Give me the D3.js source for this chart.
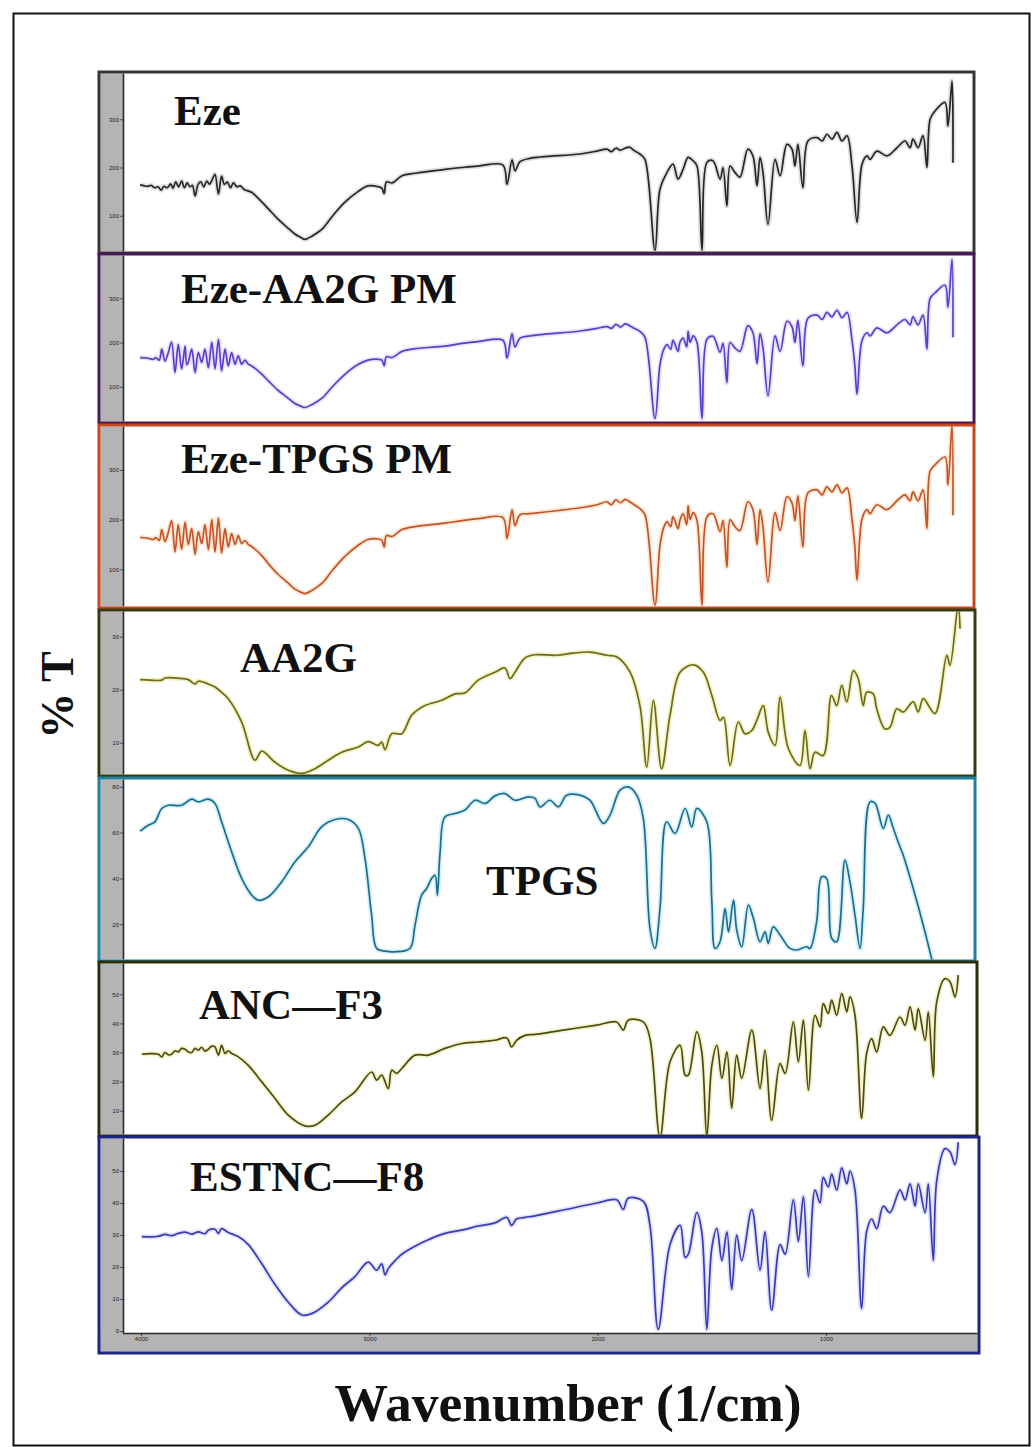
<!DOCTYPE html>
<html>
<head>
<meta charset="utf-8">
<script src="https://cdn.jsdelivr.net/npm/d3@7"></script>
<style>
  body { margin: 0; background: #fff; }
  svg { display: block; }
</style>
</head>
<body>
<svg id="chart" width="1034" height="1447"></svg>
<script>
// ---- FTIR spectra: [wavenumber (1/cm), %T] ----
const wavenumberTicks = [4000, 3000, 2000, 1000];

const ezeSpectrum = [[4004,164],[3985,162],[3970,161],[3955,163],[3940,158],[3925,160],[3912,153],[3900,161],[3885,158],[3870,166],[3860,157],[3848,170],[3835,160],[3822,172],[3810,158],[3798,168],[3785,160],[3775,163],[3763,141],[3750,165],[3738,170],[3725,160],[3712,172],[3700,165],[3688,175],[3676,186],[3661,145],[3647,182],[3635,165],[3622,170],[3608,158],[3595,168],[3580,160],[3565,162],[3550,155],[3535,152],[3514,148],[3470,128],[3440,113],[3400,93],[3360,76],[3326,62],[3300,55],[3282,51],[3250,58],[3207,72],[3160,100],[3107,128],[3050,150],[3006,162],[2960,160],[2945,157],[2935,146],[2925,170],[2900,168],[2857,183],[2800,188],[2669,196],[2594,200],[2524,203],[2415,205],[2397,165],[2375,216],[2362,193],[2340,212],[2296,219],[2077,228],[2003,234],[1960,238],[1940,233],[1920,240],[1900,236],[1880,240],[1860,242],[1840,235],[1815,228],[1793,217],[1749,28],[1727,155],[1696,190],[1670,207],[1648,176],[1626,196],[1604,221],[1582,214],[1565,203],[1543,28],[1521,211],[1495,214],[1464,176],[1451,200],[1434,120],[1420,203],[1399,190],[1377,180],[1342,238],[1320,224],[1302,162],[1289,221],[1276,190],[1254,82],[1223,217],[1201,183],[1171,248],[1149,238],[1136,203],[1123,248],[1101,158],[1079,255],[1039,262],[1017,255],[996,269],[974,259],[952,273],[930,255],[908,266],[886,203],[864,86],[842,207],[820,224],[807,217],[777,234],[733,224],[689,241],[654,255],[632,241],[619,259],[597,241],[575,266],[558,200],[544,300],[523,317],[479,335],[466,286],[448,380],[444,210]];

const ezeAa2gPmSpectrum = [[4004,166],[3975,165],[3946,162],[3935,166],[3920,160],[3909,185],[3895,158],[3880,178],[3866,201],[3851,132],[3837,196],[3822,140],[3807,192],[3800,150],[3793,155],[3778,185],[3763,132],[3749,177],[3734,155],[3720,185],[3705,143],[3690,201],[3676,140],[3661,207],[3647,136],[3632,185],[3618,147],[3603,177],[3588,151],[3574,170],[3559,151],[3545,160],[3530,151],[3515,147],[3470,128],[3440,112],[3400,92],[3360,76],[3326,62],[3300,56],[3282,53],[3250,60],[3207,74],[3160,101],[3107,128],[3050,150],[3006,160],[2960,162],[2945,160],[2935,148],[2925,168],[2900,166],[2857,180],[2800,186],[2669,192],[2594,198],[2524,202],[2415,205],[2397,165],[2375,220],[2362,190],[2340,210],[2296,215],[2077,226],[2003,232],[1960,236],[1940,232],[1920,241],[1900,235],[1880,242],[1860,238],[1840,232],[1815,225],[1793,212],[1749,28],[1727,150],[1710,185],[1696,195],[1680,185],[1670,205],[1648,180],[1640,200],[1626,210],[1610,190],[1604,225],[1595,200],[1582,215],[1565,200],[1543,28],[1521,208],[1495,214],[1464,178],[1451,198],[1434,109],[1420,200],[1399,188],[1377,180],[1342,238],[1320,222],[1302,152],[1289,220],[1276,188],[1254,79],[1223,215],[1201,180],[1171,248],[1149,236],[1136,200],[1123,250],[1101,147],[1079,255],[1039,262],[1017,252],[996,268],[974,258],[952,273],[930,256],[908,268],[886,205],[874,150],[864,83],[842,205],[820,222],[807,215],[777,233],[733,222],[689,240],[654,252],[632,240],[619,258],[597,240],[575,262],[558,185],[544,300],[523,312],[479,330],[466,280],[448,388],[444,212]];

const ezeTpgsPmSpectrum = [[4004,164],[3975,163],[3946,160],[3935,164],[3920,158],[3909,180],[3895,156],[3880,175],[3866,198],[3851,135],[3837,190],[3822,140],[3807,195],[3793,150],[3778,182],[3763,130],[3749,176],[3734,152],[3720,190],[3705,140],[3690,200],[3676,135],[3661,203],[3647,133],[3632,182],[3618,145],[3603,172],[3588,150],[3574,168],[3559,152],[3545,158],[3530,150],[3515,146],[3470,127],[3440,110],[3400,90],[3360,74],[3326,60],[3300,54],[3282,51],[3250,58],[3207,72],[3160,99],[3107,126],[3050,148],[3006,160],[2960,161],[2945,158],[2935,145],[2925,168],[2900,166],[2857,180],[2800,186],[2669,193],[2594,198],[2524,202],[2415,204],[2397,162],[2375,220],[2362,188],[2340,210],[2296,212],[2077,224],[2003,230],[1960,236],[1940,230],[1920,240],[1900,234],[1880,241],[1860,236],[1840,230],[1815,222],[1793,210],[1749,28],[1727,148],[1710,185],[1696,196],[1680,186],[1670,206],[1648,182],[1640,198],[1626,212],[1610,190],[1604,228],[1595,200],[1582,214],[1565,198],[1543,28],[1521,206],[1495,212],[1464,176],[1451,198],[1434,104],[1420,200],[1399,186],[1377,178],[1342,236],[1320,220],[1302,150],[1289,220],[1276,186],[1254,74],[1223,214],[1201,178],[1171,246],[1149,234],[1136,198],[1123,248],[1101,145],[1079,254],[1039,260],[1017,250],[996,266],[974,256],[952,270],[930,254],[908,264],[886,200],[874,148],[864,78],[842,202],[820,220],[807,212],[777,230],[733,220],[689,238],[654,250],[632,238],[619,256],[597,238],[575,260],[558,182],[544,298],[523,310],[479,326],[466,270],[448,392],[444,209]];

const aa2gSpectrum = [[4004,21.9],[3960,21.8],[3909,21.8],[3895,22.2],[3822,22.1],[3793,21.9],[3763,21.1],[3749,21.6],[3690,20.8],[3676,20.5],[3647,19.5],[3618,18.3],[3559,13.9],[3501,6.7],[3471,8.4],[3413,6.3],[3355,4.8],[3296,4.2],[3238,5.1],[3180,6.7],[3121,8.2],[3048,9.2],[3005,10.2],[2961,9.5],[2946,10.1],[2931,8.7],[2902,11.7],[2858,11.7],[2814,15.2],[2756,17],[2683,18],[2625,19.2],[2581,19.4],[2523,21.8],[2450,23.3],[2406,24.1],[2384,22.1],[2362,23.3],[2318,26],[2274,26.6],[2179,26.5],[2107,26.9],[2034,27.1],[1960,26.5],[1917,26.2],[1858,23.3],[1815,17],[1785,5.4],[1756,18],[1720,5.1],[1683,15.2],[1639,23.3],[1581,24.7],[1537,23.3],[1500,18.9],[1464,14.2],[1449,14.8],[1420,5.7],[1384,13.9],[1355,11.7],[1325,12.3],[1303,14.2],[1275,17],[1253,12],[1223,9.5],[1201,18.6],[1165,8.9],[1114,5.7],[1092,12.3],[1070,5.1],[1048,8.2],[1012,7.6],[976,18.9],[953,17],[931,20.8],[909,17.7],[880,23.6],[859,22.1],[837,17],[822,19.5],[793,19.2],[778,16.4],[742,12.6],[720,12.9],[690,16.4],[662,15.8],[618,17.7],[596,15.8],[574,18.3],[523,15.5],[471,26.5],[457,24.6],[421,36],[413,31.5]];

const tpgsSpectrum = [[4004,60.6],[3968,63.2],[3939,64.7],[3909,70.5],[3880,71.9],[3822,71.9],[3778,74.6],[3749,73.4],[3705,74.6],[3676,72.7],[3647,64.7],[3603,51.6],[3559,40],[3515,32.7],[3486,30.5],[3442,32],[3384,38.5],[3326,47.2],[3267,53.8],[3209,62.5],[3150,65.7],[3092,65.7],[3048,61.8],[3019,48.7],[2990,24],[2968,9.5],[2931,8.3],[2888,8],[2822,9.5],[2800,19.6],[2771,32.7],[2749,35.6],[2727,40],[2712,41.4],[2702,32.7],[2690,51.6],[2669,66.8],[2625,68.3],[2581,69.8],[2537,74.1],[2493,72.7],[2450,76],[2406,77],[2362,74.1],[2304,75.6],[2274,74.9],[2253,71.2],[2209,74.1],[2172,71.2],[2136,76.3],[2077,76.3],[2034,74.1],[1975,64],[1946,67.6],[1902,78.5],[1866,79.9],[1829,76.3],[1800,66.1],[1771,18.2],[1749,9.5],[1727,26.9],[1698,64.7],[1661,59.6],[1617,70.5],[1588,62.5],[1566,70.5],[1522,64.7],[1500,29.8],[1486,9.5],[1464,12.4],[1442,26.9],[1427,16.7],[1405,30.5],[1391,17.5],[1369,10.2],[1340,28.4],[1318,22.6],[1289,12.4],[1267,16.7],[1253,11.7],[1231,18.9],[1201,15.3],[1158,9.5],[1128,8.8],[1085,10.2],[1070,9.5],[1041,21.1],[1019,40.7],[997,40],[975,13.9],[953,12.4],[917,48],[895,38.5],[873,24],[851,9.5],[837,26.9],[807,73.4],[785,72.7],[749,61.8],[727,67.6],[705,61.8],[684,55.9],[662,50.2],[618,35.6],[574,19.6],[530,2]];

const ancF3Spectrum = [[3997,29.4],[3960,29.6],[3924,29.4],[3909,28.5],[3895,30],[3880,29.2],[3866,29.4],[3850,30.6],[3837,30.2],[3822,31.4],[3807,31.1],[3792,30.2],[3778,30],[3763,31.4],[3749,30.8],[3735,31.8],[3720,30.5],[3705,31.1],[3690,32.2],[3676,31.9],[3661,29.1],[3647,32.5],[3632,29.7],[3618,30.6],[3603,29.7],[3574,28.5],[3530,25.6],[3471,19.9],[3413,14.2],[3355,8.5],[3282,4.8],[3238,5],[3180,8.5],[3121,13],[3063,16.5],[2990,23.3],[2968,20.5],[2946,22.2],[2917,17.6],[2902,23.9],[2880,22.8],[2858,24.5],[2800,29.1],[2742,29.1],[2669,31.4],[2595,33.1],[2523,33.6],[2450,34.2],[2398,35],[2377,31.9],[2355,34.2],[2318,35.9],[2274,36.2],[2150,37.7],[2004,39.4],[1917,40.5],[1888,37.7],[1866,41.1],[1800,40.5],[1771,34.8],[1727,1],[1683,26.8],[1639,32.5],[1617,22.2],[1603,22.2],[1566,37.1],[1544,30.2],[1522,1],[1500,25.6],[1478,32.5],[1456,21.1],[1434,30.2],[1413,10.8],[1391,29.1],[1369,21.1],[1325,37.7],[1289,17.6],[1267,30.8],[1238,6.7],[1201,26.2],[1179,22.8],[1143,40.5],[1121,26.8],[1099,41.1],[1077,17],[1048,42.8],[1026,38.8],[1012,46.8],[990,43.4],[975,48],[953,42.8],[931,50.3],[909,44],[895,49.1],[873,42.8],[844,7.3],[822,29.7],[800,34.8],[778,30.2],[749,38.8],[720,35.9],[676,42.2],[654,39.4],[632,45.7],[610,37.7],[596,45.1],[566,34.2],[552,44],[530,21.6],[515,47.4],[479,55.4],[457,54.3],[435,49.1],[421,56.6]];

const estncF8Spectrum = [[3997,29.5],[3960,29.4],[3924,29.6],[3895,30.2],[3866,29.8],[3837,30.5],[3807,30.9],[3778,30.3],[3749,31],[3720,30.4],[3705,31.5],[3676,31.8],[3661,30.5],[3647,32],[3618,30.8],[3574,29.5],[3530,27],[3471,21],[3413,14.5],[3355,9],[3296,5],[3250,5.5],[3180,9],[3121,13.5],[3063,17],[3005,21.5],[2968,19],[2946,21],[2931,17.5],[2917,19.5],[2880,22.5],[2858,24],[2800,26.5],[2742,28.5],[2669,30.5],[2595,31.5],[2523,32.8],[2450,33.8],[2398,35.5],[2377,33],[2355,35],[2318,35.5],[2274,36],[2150,37.8],[2004,40],[1917,41],[1888,38],[1866,41.5],[1800,40.5],[1771,33],[1735,0.5],[1683,27],[1639,33],[1617,23],[1603,24],[1566,37],[1544,31],[1522,0.5],[1500,26],[1478,32],[1456,22],[1434,31],[1413,13],[1391,30],[1369,22],[1325,38],[1289,19],[1267,31],[1238,6.5],[1201,27],[1179,24],[1143,41],[1121,28],[1099,42],[1077,17],[1048,44],[1026,40],[1012,48],[990,45],[975,49],[953,44],[931,51],[909,46],[895,50],[873,44],[844,7],[822,31],[800,35],[778,32],[749,39],[720,37],[676,44],[654,41],[632,46],[610,39],[596,46],[566,37],[552,46],[530,22],[515,47],[479,57],[457,56],[435,52],[421,59]];

const sampleNames = ["Eze", "Eze-AA2G PM", "Eze-TPGS PM", "AA2G", "TPGS", "ANC\u2014F3", "ESTNC\u2014F8"];
const sampleSpectra = [ezeSpectrum, ezeAa2gPmSpectrum, ezeTpgsPmSpectrum, aa2gSpectrum, tpgsSpectrum, ancF3Spectrum, estncF8Spectrum];
const transmittanceTicks = [[100, 200, 300], [100, 200, 300], [100, 200, 300], [10, 20, 30], [20, 40, 60, 80], [10, 20, 30, 40, 50], [0, 10, 20, 30, 40, 50]];

// ---- layout of the stacked frames ----
// box: frame edges; ref: two tick values and their pixel rows (defines each y scale)
const frames = [
  { box: [99, 72, 974, 253],   ref: [100, 215.7, 300, 119.3], frame: "#363636", stroke: "#262626", halo: "#d8d8d8", label: [174, 125] },
  { box: [99, 254, 974, 423],  ref: [100, 386.7, 300, 298.3], frame: "#4a1758", stroke: "#5a3ec8", halo: "#e4dcff", label: [181, 303] },
  { box: [99, 425, 974, 608],  ref: [100, 569.3, 300, 470],   frame: "#c4471d", stroke: "#c4522a", halo: "#fbe2c8", label: [181, 473] },
  { box: [99, 610, 975, 776],  ref: [10, 742.7, 30, 636.7],   frame: "#3a3a10", stroke: "#6a6a22", halo: "#f0f0b0", label: [240, 672] },
  { box: [99, 778, 975, 961],  ref: [20, 924.3, 80, 786.7],   frame: "#1f7f9e", stroke: "#1f6d8c", halo: "#c9ecf6", label: [486, 895] },
  { box: [99, 962, 977, 1136], ref: [10, 1110.7, 50, 994.3],  frame: "#2c2c06", stroke: "#4a4a1a", halo: "#f0f0b8", label: [199, 1019] },
  { box: [99, 1137, 979, 1353], ref: [0, 1331, 50, 1171],     frame: "#1c2580", stroke: "#3a3ab4", halo: "#d8dcf8", label: [190, 1191] }
];

const svg = d3.select("#chart");
const defs = svg.append("defs");

// outer frame
svg.append("rect")
  .attr("x", 13.5).attr("y", 13.5).attr("width", 1016).attr("height", 1432)
  .attr("fill", "none").attr("stroke", "#111").attr("stroke-width", 2);

// shared wavenumber axis
const x = d3.scaleLinear().domain([4000, 1000]).range([141, 826]);

const axisX = 123;          // left axis line of every frame
const serif = "'Liberation Serif', 'Times New Roman', serif";

frames.forEach((f, i) => {
  const [x0, y0, x1, y1] = f.box;
  const inTop = y0 + 1.5, inBottom = y1 - 1.5;
  const plotBottom = i === 6 ? 1333 : inBottom;

  // y scale from two tick references, then widened to the frame interior
  const y = d3.scaleLinear().domain([f.ref[0], f.ref[2]]).range([f.ref[1], f.ref[3]]);
  y.domain([y.invert(plotBottom), y.invert(inTop)]).range([plotBottom, inTop]);

  const g = svg.append("g");

  g.append("rect")
    .attr("x", x0).attr("y", y0).attr("width", x1 - x0).attr("height", y1 - y0)
    .attr("fill", "#fff");

  // grey axis strip
  g.append("rect")
    .attr("x", x0 + 1.5).attr("y", inTop).attr("width", axisX - x0 - 1.5).attr("height", inBottom - inTop)
    .attr("fill", "#b4b4b4");
  if (i === 6) {
    g.append("rect")
      .attr("x", x0 + 1.5).attr("y", plotBottom).attr("width", x1 - x0 - 3).attr("height", inBottom - plotBottom)
      .attr("fill", "#b4b4b4");
  }

  // clip for the trace
  const clipId = "clip" + i;
  defs.append("clipPath").attr("id", clipId)
    .append("rect")
    .attr("x", axisX + 1).attr("y", inTop).attr("width", x1 - 1.5 - axisX - 1).attr("height", plotBottom - inTop);

  const line = d3.line()
    .x(d => x(d[0]))
    .y(d => y(d[1]))
    .curve(d3.curveCatmullRom.alpha(0.5));

  const data = sampleSpectra[i];
  const traces = g.append("g").attr("clip-path", `url(#${clipId})`);
  traces.append("path").datum(data)
    .attr("d", line).attr("fill", "none")
    .attr("stroke", f.halo).attr("stroke-width", 5).attr("stroke-linejoin", "round").attr("opacity", 0.8);
  traces.append("path").datum(data)
    .attr("d", line).attr("fill", "none")
    .attr("stroke", f.stroke).attr("stroke-width", 1.7).attr("stroke-linejoin", "round");

  // left axis
  const yAxis = d3.axisLeft(y).tickValues(transmittanceTicks[i]).tickSize(3).tickPadding(1).tickFormat(d3.format("d"));
  const ag = g.append("g").attr("transform", `translate(${axisX},0)`).call(yAxis);
  ag.select(".domain").remove();
  ag.selectAll(".tick line").attr("stroke", "#333").attr("stroke-width", 0.8);
  ag.selectAll(".tick text").attr("font-family", "'Liberation Sans', Arial, sans-serif").attr("font-size", 6).attr("fill", "#222");
  g.append("line")
    .attr("x1", axisX + 0.5).attr("x2", axisX + 0.5).attr("y1", inTop).attr("y2", plotBottom)
    .attr("stroke", "#2a2a2a").attr("stroke-width", 1.6);

  if (i === 6) {
    const xAxis = d3.axisBottom(x).tickValues(wavenumberTicks).tickSize(3).tickPadding(1).tickFormat(d3.format("d"));
    const bg = g.append("g").attr("transform", `translate(0,${plotBottom})`).call(xAxis);
    bg.select(".domain").remove();
    bg.selectAll(".tick line").attr("stroke", "#333").attr("stroke-width", 0.8);
    bg.selectAll(".tick text").attr("font-family", "'Liberation Sans', Arial, sans-serif").attr("font-size", 6).attr("fill", "#222");
    g.append("line")
      .attr("x1", axisX).attr("x2", x1 - 1.5).attr("y1", plotBottom + 0.5).attr("y2", plotBottom + 0.5)
      .attr("stroke", "#2a2a2a").attr("stroke-width", 1.4);
  }

  // frame border
  g.append("rect")
    .attr("x", x0).attr("y", y0).attr("width", x1 - x0).attr("height", y1 - y0)
    .attr("fill", "none").attr("stroke", f.frame).attr("stroke-width", 3);

  // sample name
  g.append("text")
    .attr("x", f.label[0]).attr("y", f.label[1])
    .attr("font-family", serif).attr("font-weight", "bold").attr("font-size", 43)
    .attr("fill", "#111")
    .text(sampleNames[i]);
});

// axis titles
svg.append("text")
  .attr("transform", "translate(73,695) rotate(-90)")
  .attr("text-anchor", "middle")
  .attr("font-family", serif).attr("font-weight", "bold").attr("font-size", 46)
  .attr("fill", "#111")
  .text("% T");

svg.append("text")
  .attr("x", 568).attr("y", 1421)
  .attr("text-anchor", "middle")
  .attr("font-family", serif).attr("font-weight", "bold").attr("font-size", 53.5)
  .attr("fill", "#111")
  .text("Wavenumber (1/cm)");
</script>
</body>
</html>
